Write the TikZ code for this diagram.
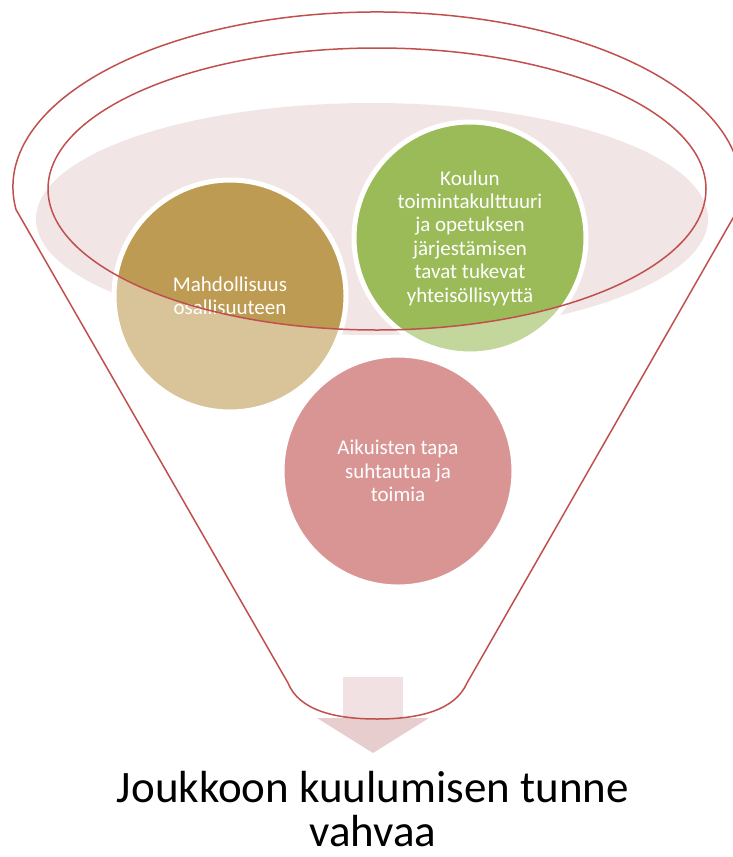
\documentclass[tikz,border=0pt]{standalone}
\usepackage{fontspec}
\setmainfont{Carlito}
\definecolor{funnelred}{RGB}{192,80,77}
\definecolor{bowl}{RGB}{242,229,230}
\definecolor{tandark}{RGB}{190,155,82}
\definecolor{tanlight}{RGB}{216,196,152}
\definecolor{greendark}{RGB}{155,187,89}
\definecolor{greenlight}{RGB}{195,214,155}
\definecolor{rose}{RGB}{217,149,148}
\definecolor{shaftcol}{RGB}{242,225,226}
\definecolor{headcol}{RGB}{232,205,207}
\tikzset{
  funnelline/.style={draw=funnelred, line width=1.5},
  bubble/.style={circle, minimum size=232, inner sep=0, draw=white, line width=5,
    text=white, align=center, font=\fontsize{21}{23.4}\selectfont},
  caption/.style={align=center, inner sep=0, text=black, font=\fontsize{45}{44}\selectfont}
}
\begin{document}
\begin{tikzpicture}[x=1pt,y=1pt]
\useasboundingbox (0,0) rectangle (732,-857);
% bowl
\fill[bowl] (372,-219) ellipse [x radius=336, y radius=116];
% circle bodies
\fill[tanlight] (230,-296) circle [radius=115];
\fill[greenlight] (470,-238) circle [radius=115];
\fill[rose] (398,-471) circle [radius=115];
\begin{scope}
  \clip (377,-189) ellipse [x radius=329, y radius=141];
  \fill[tandark] (230,-296) circle [radius=115];
  \fill[greendark] (470,-238) circle [radius=115];
\end{scope}
\node[bubble] (tan) at (230,-296) {Mahdollisuus\\osallisuuteen};
\node[bubble] (green) at (470,-238) {Koulun\\toimintakulttuuri\\ja opetuksen\\järjestämisen\\tavat tukevat\\yhteisöllisyyttä};
\node[bubble] (pink) at (398,-471) {Aikuisten tapa\\suhtautua ja\\toimia};
% arrow
\fill[shaftcol] (343,-677) rectangle (403,-718);
\fill[headcol] (317,-718) -- (429,-718) -- (373,-753) -- cycle;
% funnel outline
\draw[funnelline] (16,-209.5) arc[start angle=187.4, end angle=-7.4, x radius=364, y radius=175]
  -- (467,-683) .. controls (455,-710) and (420,-719) .. (377,-719)
  .. controls (334,-719) and (299,-710) .. (288,-683) -- cycle;
\draw[funnelline] (377,-189) ellipse [x radius=329, y radius=141];
% caption
\node[caption] (result) at (373,-809) {Joukkoon kuulumisen tunne\\vahvaa};
\end{tikzpicture}
\end{document}
